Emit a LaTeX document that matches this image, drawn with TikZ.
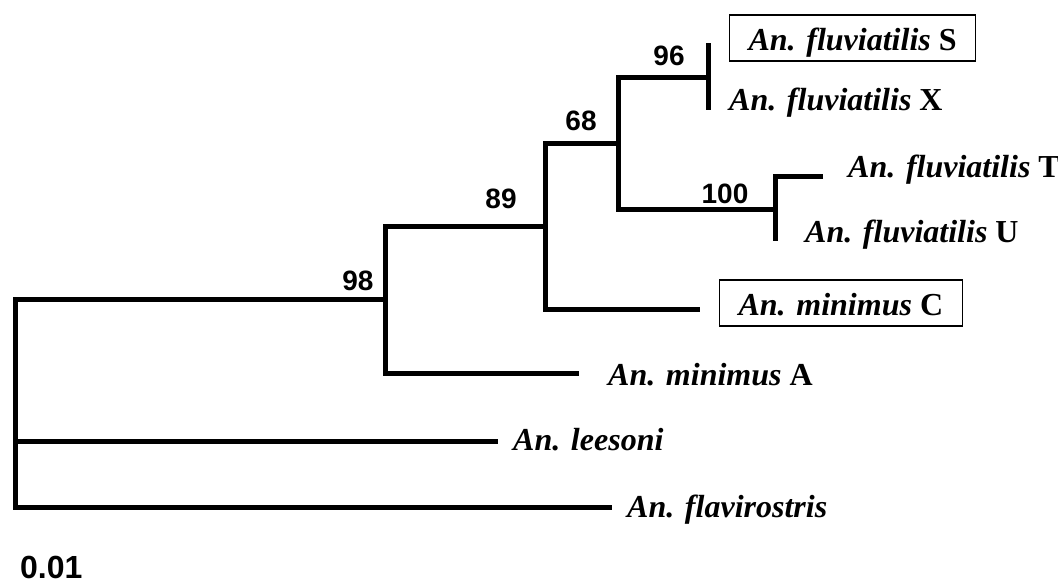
\documentclass[tikz,border=0pt]{standalone}
\usepackage{fontspec}
\setmainfont{Liberation Serif}
\newfontfamily\bootfont{Liberation Sans}

\begin{document}
\begin{tikzpicture}[x=1pt,y=-1pt,
	branch/.style={line width=5pt,line join=miter},
	taxon/.style={anchor=base west,inner sep=0pt,font=\fontsize{32}{38}\selectfont\bfseries},
	boxed/.style={taxon,draw,line width=1.2pt,inner xsep=19pt,text height=35pt,text depth=11pt},
	boot/.style={anchor=base,inner sep=0pt,font=\bootfont\fontsize{28}{32}\selectfont\bfseries}]
	\useasboundingbox (0,0) rectangle (1058,584);

	% internal nodes
	\coordinate (root) at (15,400);
	\coordinate (n98)  at (385,299);
	\coordinate (n89)  at (545,226);
	\coordinate (n68)  at (618,143);
	\coordinate (n96)  at (708,77);
	\coordinate (n100) at (775,209);
	% tips
	\coordinate (tS)    at (708,43);
	\coordinate (tX)    at (708,110);
	\coordinate (tT)    at (823,176);
	\coordinate (tU)    at (775,241);
	\coordinate (tC)    at (700,309);
	\coordinate (tA)    at (579,373);
	\coordinate (tLee)  at (498,441);
	\coordinate (tFlav) at (612,507);

	\draw[branch] (n98) -| (root) |- (tFlav);
	\draw[branch] (root |- tLee) -- (tLee);
	\draw[branch] (n89) -| (n98) |- (tA);
	\draw[branch] (n68) -| (n89) |- (tC);
	\draw[branch] (n96) -| (n68) |- (n100);
	\draw[branch] (tS) -- (tX);
	\draw[branch] (tT) -| (tU);

	\node[boxed] (S)    at (729,50)  {\textit{An. fluviatilis} S};
	\node[taxon] (X)    at (729,110) {\textit{An. fluviatilis} X};
	\node[taxon] (T)    at (848,177) {\textit{An. fluviatilis} T};
	\node[taxon] (U)    at (805,242) {\textit{An. fluviatilis} U};
	\node[boxed] (C)    at (719,315) {\textit{An. minimus} C};
	\node[taxon] (A)    at (608,385) {\textit{An. minimus} A};
	\node[taxon] (Lee)  at (513,450) {\textit{An. leesoni}};
	\node[taxon] (Flav) at (627,517) {\textit{An. flavirostris}};

	\node[boot] (b96)  at (669,65)  {96};
	\node[boot] (b68)  at (581,130) {68};
	\node[boot] (b89)  at (501,208) {89};
	\node[boot] (b100) at (725,203) {100};
	\node[boot] (b98)  at (358,290) {98};
	\node[boot,anchor=base west,font=\bootfont\fontsize{32}{36}\selectfont\bfseries] (scale) at (20,578) {0.01};
\end{tikzpicture}
\end{document}
